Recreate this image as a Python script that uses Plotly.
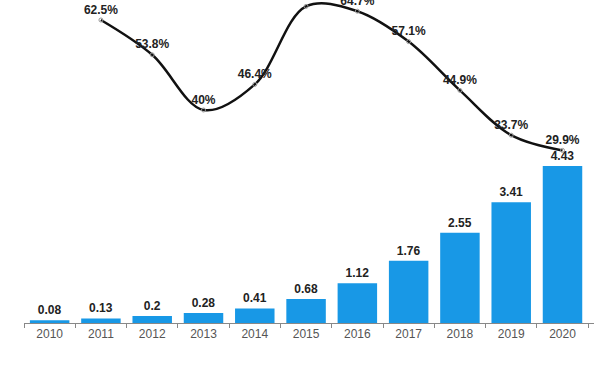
import plotly.graph_objects as go

years = ["2010", "2011", "2012", "2013", "2014", "2015", "2016", "2017", "2018", "2019", "2020"]
values = [0.08, 0.13, 0.2, 0.28, 0.41, 0.68, 1.12, 1.76, 2.55, 3.41, 4.43]
value_labels = ["0.08", "0.13", "0.2", "0.28", "0.41", "0.68", "1.12", "1.76", "2.55", "3.41", "4.43"]
growth_years = ["2011", "2012", "2013", "2014", "2015", "2016", "2017", "2018", "2019", "2020"]
growth = [62.5, 53.8, 40.0, 46.4, 65.9, 64.7, 57.1, 44.9, 33.7, 29.9]
growth_labels = ["62.5%", "53.8%", "40%", "46.4%", "", "64.7%", "57.1%", "44.9%", "33.7%", "29.9%"]

fig = go.Figure()
fig.add_trace(go.Bar(
    x=years, y=values, text=value_labels, textposition="outside",
    marker=dict(color="#1898e6", line=dict(width=0)),
    textfont=dict(family="Liberation Sans, Arial", size=12, color="#222222"),
    texttemplate="<b>%{text}</b>",
    cliponaxis=False,
))
fig.add_trace(go.Scatter(
    x=growth_years, y=growth, yaxis="y2", mode="lines+markers+text",
    text=growth_labels, textposition="top center",
    texttemplate="<b>%{text}</b>",
    line=dict(color="#111111", width=2.5, shape="spline", smoothing=1.0),
    marker=dict(symbol="circle-open", size=4, color="#999999", line=dict(width=1)),
    textfont=dict(family="Liberation Sans, Arial", size=12, color="#222222"),
))

fig.update_layout(
    width=600, height=367,
    margin=dict(l=24, r=6, t=0, b=44),
    paper_bgcolor="white", plot_bgcolor="white",
    showlegend=False, bargap=0.23,
    font=dict(family="Liberation Sans, Arial"),
    xaxis=dict(type="category", showline=True, linecolor="#888888", linewidth=1,
               ticks="outside", tickson="boundaries", ticklen=4, tickcolor="#888888",
               tickfont=dict(size=12, color="#555555"), showgrid=False),
    yaxis=dict(range=[0, 9.12], visible=False, showgrid=False),
    yaxis2=dict(range=[-13.25, 67.5], overlaying="y", visible=False, showgrid=False),
)
fig.write_html("out.html", config={"displayModeBar": False},
               post_script="document.body.style.margin='0';document.body.style.overflow='hidden';")
